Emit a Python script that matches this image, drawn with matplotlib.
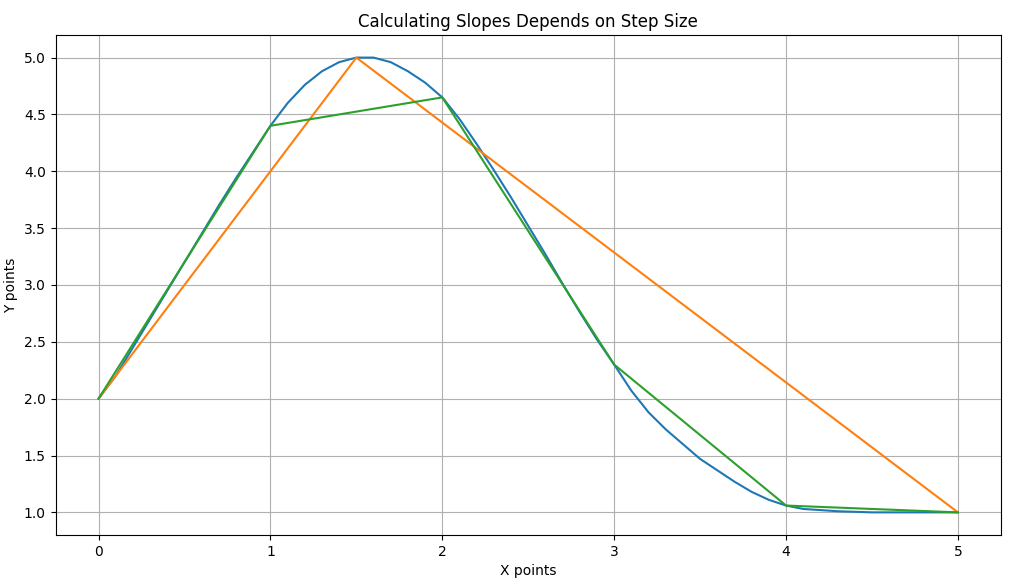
import numpy as np
import matplotlib
matplotlib.use("Agg")
import matplotlib.pyplot as plt

# fine curve
x_fine = [0.0, 0.1, 0.2, 0.3, 0.4, 0.5, 0.6, 0.7, 0.8, 0.9,
          1.0, 1.1, 1.2, 1.3, 1.4, 1.5, 1.6, 1.7, 1.8, 1.9,
          2.0, 2.1, 2.2, 2.3, 2.4, 2.5, 2.6, 2.7, 2.8, 2.9,
          3.0, 3.1, 3.2, 3.3, 3.4, 3.5, 3.6, 3.7, 3.8, 3.9,
          4.0, 4.1, 4.2, 4.3, 4.4, 4.5, 4.6, 4.7, 4.8, 4.9, 5.0]
y_fine = [2.0, 2.2, 2.45, 2.7, 2.95, 3.2, 3.45, 3.7, 3.94, 4.17,
          4.40, 4.60, 4.76, 4.88, 4.96, 5.0, 5.0, 4.96, 4.88, 4.78,
          4.65, 4.46, 4.24, 4.01, 3.77, 3.52, 3.27, 3.01, 2.76, 2.52,
          2.30, 2.07, 1.88, 1.73, 1.60, 1.47, 1.37, 1.27, 1.18, 1.11,
          1.06, 1.03, 1.02, 1.01, 1.005, 1.0, 1.0, 1.0, 1.0, 1.0, 1.0]

# big step
x_big = [0.0, 1.5, 5.0]
y_big = [2.0, 5.0, 1.0]

# step of 1
x_one = [0, 1, 2, 3, 4, 5]
y_one = [2.0, 4.40, 4.65, 2.30, 1.06, 1.0]

fig = plt.figure(figsize=(10.1, 5.81), dpi=100)
plt.plot(x_fine, y_fine)
plt.plot(x_big, y_big)
plt.plot(x_one, y_one)
plt.title("Calculating Slopes Depends on Step Size")
plt.xlabel("X points")
plt.ylabel("Y points")
plt.grid(True)
plt.subplots_adjust(left=0.055, right=0.991, top=0.94, bottom=0.079)
plt.savefig("out.png")
